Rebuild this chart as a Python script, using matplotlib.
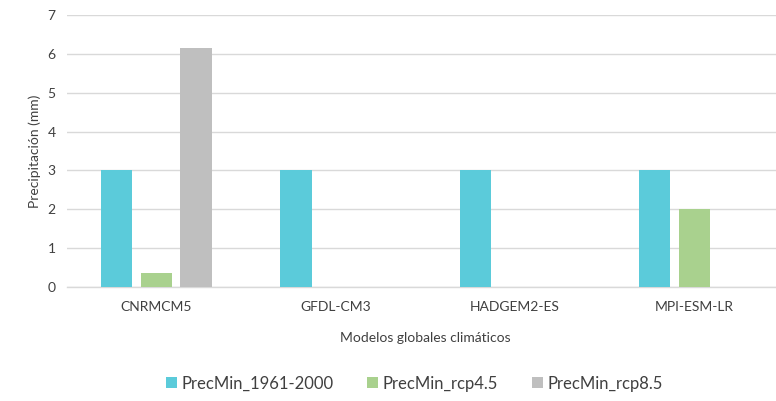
import numpy as np
import matplotlib.pyplot as plt

models = ["CNRMCM5", "GFDL-CM3", "HADGEM2-ES", "MPI-ESM-LR"]
prec_hist = [3, 3, 3, 3]
prec_rcp45 = [0.35, 0, 0, 2]
prec_rcp85 = [6.15, 0, 0, 0]

series = [
    ("PrecMin_1961-2000", prec_hist, "#5BCBDA"),
    ("PrecMin_rcp4.5", prec_rcp45, "#A9D18E"),
    ("PrecMin_rcp8.5", prec_rcp85, "#BFBFBF"),
]

plt.rcParams["font.family"] = ["Lato", "DejaVu Sans"]

fig = plt.figure(figsize=(7.76, 4.01), dpi=100)
# plot area runs past the right edge of the image, like the cropped original
ax = fig.add_axes([0.0861, 0.2843, 0.924, 0.6783])

x = np.arange(len(models))
width = 0.174
step = 0.221
for i, (name, vals, color) in enumerate(series):
    ax.bar(x + (i - 1) * step, vals, width, color=color, label=name, zorder=3)

ax.set_xlim(-0.5, len(models) - 0.5)
ax.set_ylim(0, 7)
ax.set_yticks(range(0, 8))
ax.set_xticks(x)
ax.set_xticklabels(models)
ax.tick_params(axis="both", length=0, labelsize=10, colors="#404040", pad=8)
ax.tick_params(axis="x", pad=10)
ax.grid(axis="y", color="#D9D9D9", linewidth=1, zorder=0)
for side in ["top", "right", "left"]:
    ax.spines[side].set_visible(False)
ax.spines["bottom"].set_color("#D9D9D9")
ax.spines["bottom"].set_linewidth(1)

ax.set_ylabel("Precipitación (mm)", fontsize=10, color="#404040", labelpad=5)
ax.set_xlabel("Modelos globales climáticos", fontsize=10, color="#404040", labelpad=14)

fig.legend(
    loc="center",
    bbox_to_anchor=(0.534, 0.043),
    ncol=3,
    frameon=False,
    fontsize=12,
    handlelength=0.65,
    handleheight=0.65,
    handletextpad=0.3,
    columnspacing=2.0,
    labelcolor="#404040",
)

fig.savefig("out.png", dpi=100)
